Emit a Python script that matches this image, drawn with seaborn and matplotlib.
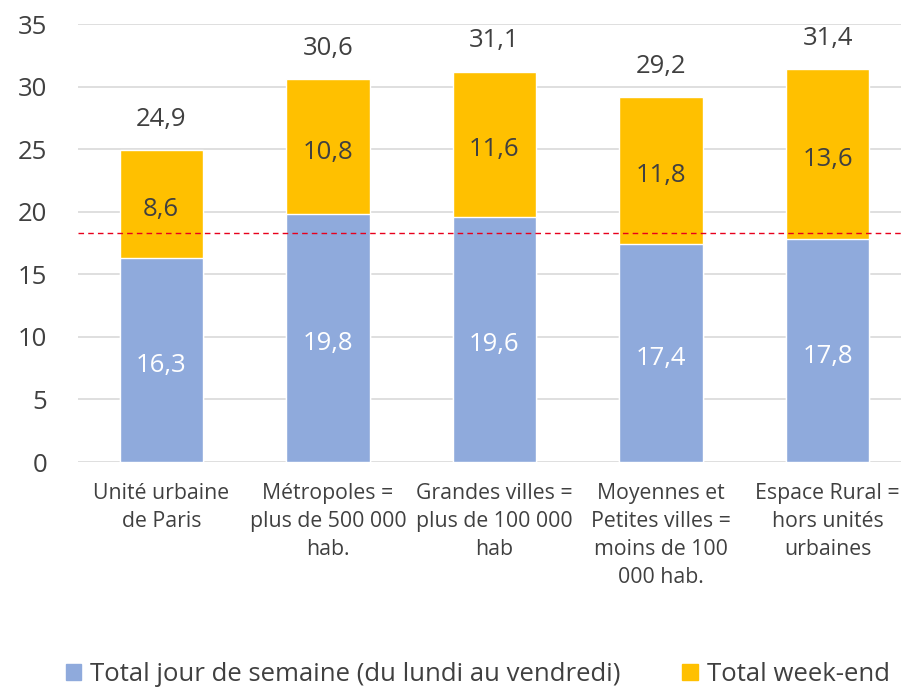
import numpy as np
import pandas as pd
import matplotlib
matplotlib.use('Agg')
import matplotlib.pyplot as plt
import seaborn as sns
from matplotlib.patches import Patch

categories = ['Unité urbaine\nde Paris',
              'Métropoles =\nplus de 500 000\nhab.',
              'Grandes villes =\nplus de 100 000\nhab',
              'Moyennes et\nPetites villes =\nmoins de 100\n000 hab.',
              'Espace Rural =\nhors unités\nurbaines']
semaine = [16.3, 19.8, 19.6, 17.4, 17.8]
weekend = [8.6, 10.8, 11.6, 11.8, 13.6]
totaux = [24.9, 30.6, 31.1, 29.2, 31.4]
reference = 18.3

BLEU = '#8FAADC'
JAUNE = '#FFC000'
TEXTE = '#404040'

sns.set_style('white')
plt.rcParams['font.family'] = ['Open Sans', 'DejaVu Sans']

df = pd.DataFrame({'cat': categories, 'semaine': semaine, 'weekend': weekend})
df['cumul'] = df['semaine'] + df['weekend']

fig = plt.figure(figsize=(9.01, 6.87), dpi=100)
ax = fig.add_axes([78 / 901, 225 / 687, 823 / 901, 438 / 687])

# barres empilées : le total (jaune) puis la semaine (bleu) par-dessus
sns.barplot(data=df, x='cat', y='cumul', color=JAUNE, width=0.5,
            saturation=1, ax=ax, zorder=2)
sns.barplot(data=df, x='cat', y='semaine', color=BLEU, width=0.5,
            saturation=1, ax=ax, zorder=3)

ax.set_xlim(-0.5, 4.44)
ax.set_ylim(0, 35)
ax.set_yticks(np.arange(0, 36, 5))
ax.yaxis.grid(True, color='#D9D9D9', linewidth=1.2, zorder=0)
ax.set_axisbelow(True)
for s in ax.spines.values():
    s.set_visible(False)
ax.set_xlabel('')
ax.set_ylabel('')
ax.tick_params(axis='y', labelsize=18.5, colors=TEXTE, length=0, pad=22)
ax.tick_params(axis='x', labelsize=15.3, colors=TEXTE, length=0, pad=15)
for lab in ax.get_xticklabels():
    lab.set_linespacing(1.45)

# ligne de référence
ax.axhline(reference, color='#E8001C', linestyle=(0, (4, 3)), linewidth=1.0, zorder=4)

def fr(v):
    return f'{v:.1f}'.replace('.', ',')

for i in range(len(categories)):
    ax.annotate(fr(semaine[i]), (i, semaine[i] / 2), xytext=(0, -4),
                textcoords='offset points', ha='center', va='center',
                color='white', fontsize=18.5, zorder=5)
    ax.annotate(fr(weekend[i]), (i, semaine[i] + weekend[i] / 2), xytext=(0, -4),
                textcoords='offset points', ha='center', va='center',
                color=TEXTE, fontsize=18.5, zorder=5)
    ax.annotate(fr(totaux[i]), (i, df['cumul'][i]), xytext=(0, 22),
                textcoords='offset points', ha='center', va='center',
                color=TEXTE, fontsize=18.5)

handles = [Patch(color=BLEU, label='Total jour de semaine (du lundi au vendredi)'),
           Patch(color=JAUNE, label='Total week-end')]
fig.legend(handles=handles, loc='center', bbox_to_anchor=(0.53, 0.018),
           ncol=2, frameon=False, fontsize=18.5, labelcolor=TEXTE,
           handlelength=0.6, handleheight=0.6, handletextpad=0.35, columnspacing=2.4)

fig.savefig('out.png', dpi=100)
